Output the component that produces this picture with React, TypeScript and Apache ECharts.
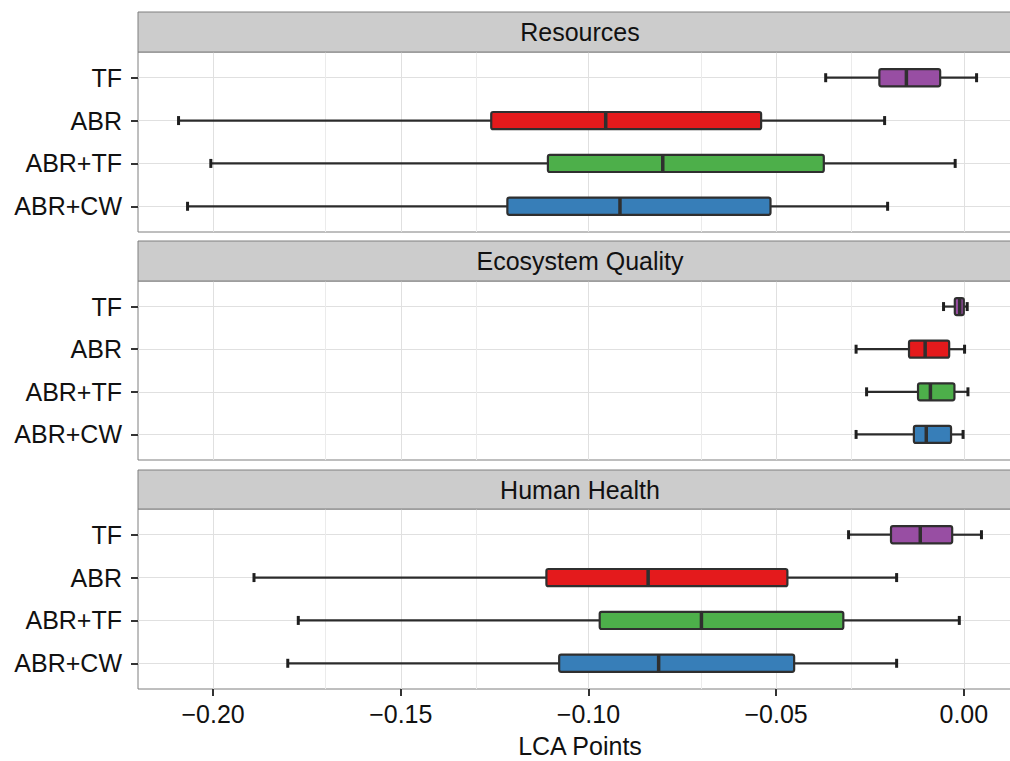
import { useEffect, useRef } from 'react';
import * as echarts from 'echarts';

// Categories (top to bottom) and their fill colours
const categories = ['TF', 'ABR', 'ABR+TF', 'ABR+CW'];
const categoryColors = ['#984EA3', '#E41A1C', '#4DAF4A', '#377EB8'];
const panelTitles = ['Resources', 'Ecosystem Quality', 'Human Health'];
const xTicks = [-0.2, -0.15, -0.1, -0.05, 0];
const xMinorTicks = [-0.175, -0.125, -0.075, -0.025];
const xAxisTitle = 'LCA Points';

// Box statistics per category: [min, Q1, median, Q3, max]
const resources = [
  [-0.0368, -0.0225, -0.0153, -0.0063, 0.0034],
  [-0.2092, -0.1259, -0.0954, -0.054, -0.0211],
  [-0.2006, -0.1108, -0.0802, -0.0373, -0.0023],
  [-0.2068, -0.1216, -0.0916, -0.0515, -0.0203],
];
const ecosystemQuality = [
  [-0.0054, -0.0024, -0.0011, 0.0, 0.0009],
  [-0.0287, -0.0146, -0.0103, -0.0039, 0.0002],
  [-0.0259, -0.0122, -0.0089, -0.0025, 0.0011],
  [-0.0287, -0.0133, -0.01, -0.0034, -0.0002],
];
const humanHealth = [
  [-0.0307, -0.0194, -0.0116, -0.0031, 0.0047],
  [-0.1891, -0.1112, -0.0841, -0.047, -0.0179],
  [-0.1773, -0.097, -0.0699, -0.0321, -0.0012],
  [-0.1801, -0.1078, -0.0813, -0.0452, -0.0179],
];
const panels = [resources, ecosystemQuality, humanHealth];

const FONT = 'Liberation Sans, Arial, Helvetica, sans-serif';
// The plotting area runs past the right edge of the 1010px page (as in the reference)
const W = 1022;
const H = 761;
const GRID_LEFT = 138;
const GRID_RIGHT = 0;
const PANEL_TOPS = [52, 281, 509];
const PANEL_HEIGHTS = [180, 179, 180];
const STRIP_TOPS = [12, 241, 470];
const STRIP_HEIGHTS = [40, 40, 39];

const fmtX = (v: number) => v.toFixed(2).replace('-', '\u2212');

export default function App() {
  const ref = useRef<HTMLDivElement>(null);
  useEffect(() => {
    document.body.style.margin = '0';
    document.body.style.overflow = 'hidden';
    document.documentElement.style.overflow = 'hidden';
    const chart = echarts.init(ref.current!, undefined, { renderer: 'svg' });

    const grids = panels.map((_, i) => ({
      left: GRID_LEFT,
      right: GRID_RIGHT,
      top: PANEL_TOPS[i],
      height: PANEL_HEIGHTS[i],
      show: true,
      backgroundColor: '#ffffff',
      borderColor: '#7f7f7f',
      borderWidth: 1,
      containLabel: false,
    }));

    const xAxes = panels.map((_, i) => ({
      gridIndex: i,
      type: 'value',
      min: -0.22,
      max: 0.0155,
      axisLine: { show: false, onZero: false },
      axisTick: {
        show: i === 2,
        customValues: xTicks,
        length: 7,
        lineStyle: { color: '#333333', width: 2 },
      },
      axisLabel: {
        show: i === 2,
        customValues: xTicks,
        formatter: (v: number) => fmtX(v),
        fontSize: 25,
        fontFamily: FONT,
        color: '#111111',
        margin: 12,
      },
      splitLine: { show: true, lineStyle: { color: '#e0e0e0', width: 1 } },
      name: i === 2 ? xAxisTitle : '',
      nameLocation: 'middle',
      nameGap: 44,
      nameTextStyle: { fontSize: 25, fontFamily: FONT, color: '#111111' },
    }));

    const catIdx = categories.map((_, k) => k);
    const yAxes = panels.map((_, i) => ({
      gridIndex: i,
      type: 'value',
      inverse: true,
      min: -0.6,
      max: 3.6,
      axisLine: { show: false, onZero: false },
      axisTick: {
        show: true,
        customValues: catIdx,
        length: 7,
        lineStyle: { color: '#333333', width: 2 },
      },
      axisLabel: {
        customValues: catIdx,
        formatter: (v: number) => categories[Math.round(v)] ?? '',
        fontSize: 25,
        fontFamily: FONT,
        color: '#111111',
        margin: 16,
      },
      splitLine: { show: true, lineStyle: { color: '#e0e0e0', width: 1 } },
    }));

    const series = panels.map((rows, i) => ({
      type: 'custom',
      xAxisIndex: i,
      yAxisIndex: i,
      z: 5,
      encode: { x: [1, 2, 3, 4, 5], y: 0 },
      data: rows.map((r, k) => [k, ...r]),
      renderItem: (_params: any, api: any) => {
        const idx = api.value(0);
        const lo = api.coord([api.value(1), idx]);
        const q1 = api.coord([api.value(2), idx]);
        const med = api.coord([api.value(3), idx]);
        const q3 = api.coord([api.value(4), idx]);
        const hi = api.coord([api.value(5), idx]);
        const unit = api.size([0, 1])[1];
        const boxH = unit * 0.4;
        const capH = unit * 0.21;
        const y = lo[1];
        const lineStyle = { stroke: '#2b2b2b', lineWidth: 2.2 };
        const capStyle = { stroke: '#1f1f1f', lineWidth: 3 };
        return {
          type: 'group',
          children: [
            { type: 'line', shape: { x1: lo[0], y1: y, x2: q1[0], y2: y }, style: lineStyle },
            { type: 'line', shape: { x1: q3[0], y1: y, x2: hi[0], y2: y }, style: lineStyle },
            { type: 'line', shape: { x1: lo[0], y1: y - capH / 2, x2: lo[0], y2: y + capH / 2 }, style: capStyle },
            { type: 'line', shape: { x1: hi[0], y1: y - capH / 2, x2: hi[0], y2: y + capH / 2 }, style: capStyle },
            {
              type: 'rect',
              shape: { x: q1[0], y: y - boxH / 2, width: q3[0] - q1[0], height: boxH, r: 2 },
              style: { fill: categoryColors[idx], stroke: '#2f2f2f', lineWidth: 2.2 },
            },
            { type: 'line', shape: { x1: med[0], y1: y - boxH / 2, x2: med[0], y2: y + boxH / 2 }, style: { stroke: '#2f2f2f', lineWidth: 3.5 } },
          ],
        };
      },
      markLine: {
        silent: true,
        symbol: 'none',
        z: 1,
        label: { show: false },
        lineStyle: { color: '#ebebeb', type: 'solid', width: 1 },
        data: xMinorTicks.map((v) => ({ xAxis: v })),
      },
    }));

    const stripWidth = W - GRID_LEFT - GRID_RIGHT;
    const stripCenter = GRID_LEFT + stripWidth / 2;
    const graphic = panelTitles.flatMap((t, i) => [
      {
        type: 'rect',
        z: 10,
        shape: { x: GRID_LEFT, y: STRIP_TOPS[i], width: stripWidth, height: STRIP_HEIGHTS[i] },
        style: { fill: '#cccccc', stroke: '#7f7f7f', lineWidth: 1 },
      },
      {
        type: 'text',
        z: 11,
        x: stripCenter,
        y: STRIP_TOPS[i] + STRIP_HEIGHTS[i] / 2,
        style: {
          text: t,
          fontSize: 25,
          fontFamily: FONT,
          fill: '#111111',
          align: 'center',
          verticalAlign: 'middle',
        },
      },
    ]);

    chart.setOption({
      animation: false,
      backgroundColor: '#ffffff',
      grid: grids,
      xAxis: xAxes,
      yAxis: yAxes,
      series,
      graphic,
    } as any);

    return () => chart.dispose();
  }, []);

  return <div ref={ref} style={{ width: W, height: H, position: 'absolute', left: 0, top: 0 }} />;
}
